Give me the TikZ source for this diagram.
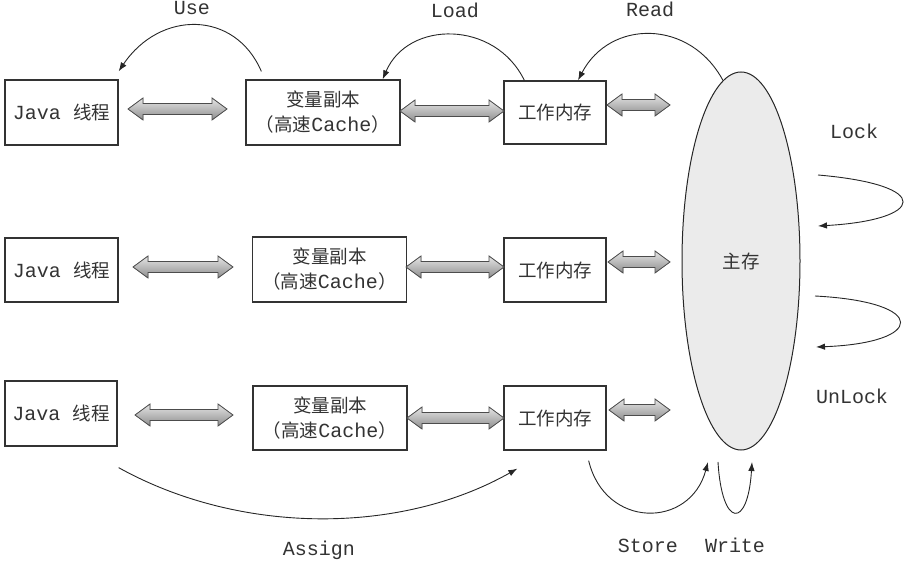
\documentclass[tikz,border=0pt]{standalone}
\usepackage{fontspec}
\setmainfont{Liberation Mono}
\newfontfamily\cjk[Scale=0.925]{Noto Sans CJK SC}
\usetikzlibrary{arrows.meta,shapes.geometric,calc}
\newcommand\dblarr[3]{%
  \filldraw[dbl] (#1,#3) -- ({#1+15},{#3+11}) -- ({#1+15},{#3+5.5}) -- ({#2-15},{#3+5.5})
   -- ({#2-15},{#3+11}) -- (#2,#3) -- ({#2-15},{#3-11}) -- ({#2-15},{#3-5.5})
   -- ({#1+15},{#3-5.5}) -- ({#1+15},{#3-11}) -- cycle;}
\begin{document}
\begin{tikzpicture}[x=1pt,y=1pt,font=\fontsize{20}{25}\selectfont,
  box/.style={draw=black!80,line width=1.3pt,fill=white,inner sep=0pt,align=center,text=black!80},
  curve/.style={draw=black!85,line width=0.9pt,-{Latex[length=9pt,width=6.5pt]}},
  lbl/.style={text=black!80,anchor=base},
  dbl/.style={draw=black!70,line width=0.8pt,top color=black!10,bottom color=black!45}]
\useasboundingbox (0,0) rectangle (906,-561);
% row 1
\node[box,minimum width=113,minimum height=65] (j1) at (61.5,-112.5) {Java {\cjk 线程}};
\node[box,minimum width=154,minimum height=65] (c1) at (323,-112.5) {{\cjk 变量副本}\\{\cjk （高速}Cache{\cjk ）}};
\node[box,minimum width=102,minimum height=63] (w1) at (555,-112.5) {\cjk 工作内存};
% row 2
\node[box,minimum width=113,minimum height=64] (j2) at (61.5,-270) {Java {\cjk 线程}};
\node[box,minimum width=154,minimum height=65] (c2) at (329.5,-269.5) {{\cjk 变量副本}\\{\cjk （高速}Cache{\cjk ）}};
\node[box,minimum width=102,minimum height=64] (w2) at (555,-270) {\cjk 工作内存};
% row 3
\node[box,minimum width=112,minimum height=65] (j3) at (61,-413.5) {Java {\cjk 线程}};
\node[box,minimum width=154,minimum height=64] (c3) at (330,-418) {{\cjk 变量副本}\\{\cjk （高速}Cache{\cjk ）}};
\node[box,minimum width=102,minimum height=64] (w3) at (555,-418) {\cjk 工作内存};
% main memory
\node[draw=black!85,line width=1pt,fill=black!8,ellipse,minimum width=118,minimum height=378,inner sep=0pt,text=black!80] (mm) at (741,-261) {\cjk 主存};
% double arrows
\dblarr{128}{227}{-109}
\dblarr{400}{504}{-111}
\dblarr{607}{670}{-105}
\dblarr{133}{233}{-267}
\dblarr{406}{504}{-267}
\dblarr{608}{670}{-262}
\dblarr{135}{233}{-415}
\dblarr{407}{504}{-418}
\dblarr{609}{670}{-410}
% curve end points
\coordinate (lk1) at (818,-175);
\coordinate (lk2) at (818,-226);
\coordinate (ul1) at (815,-296);
\coordinate (ul2) at (816,-347);
\coordinate (st2) at (708,-462);
\coordinate (wr1) at (718,-462);
\coordinate (wr2) at (752,-462);
% curved arrows
\draw[curve] ($(c1.north west)+(16,8)$) .. controls (235,-10) and (160,-10) .. ($(j1.north east)+(0,8)$);
\draw[curve] ($(w1.north west)+(21,0)$) .. controls (495,-20) and (408,-20) .. ($(c1.north east)+(-18,0)$);
\draw[curve] ($(mm.north)+(-18,-9)$) .. controls (690,-19) and (610,-19) .. ($(w1.north)+(23,0)$);
\draw[curve] (lk1) .. controls (935,-185) and (925,-220) .. (lk2);
\draw[curve] (ul1) .. controls (930,-302) and (925,-343) .. (ul2);
\draw[curve] ($(j3.south east)+(1,-21)$) .. controls (240,-535) and (400,-535) .. ($(w3.south west)+(14,-18)$);
\draw[curve] ($(w3.south east)+(-18,-10)$) .. controls (605,-529) and (690,-529) .. (st2);
\draw[curve] (wr1) .. controls (722,-529) and (748,-529) .. (wr2);
% labels
\node[lbl] (luse) at (192,-15) {Use};
\node[lbl] (lload) at (455,-18) {Load};
\node[lbl] (lread) at (650,-17) {Read};
\node[lbl] (llock) at (854,-139) {Lock};
\node[lbl] (lunlock) at (852,-404) {UnLock};
\node[lbl] (lassign) at (319,-555) {Assign};
\node[lbl] (lstore) at (648,-552) {Store};
\node[lbl] (lwrite) at (735,-552) {Write};
\end{tikzpicture}
\end{document}
